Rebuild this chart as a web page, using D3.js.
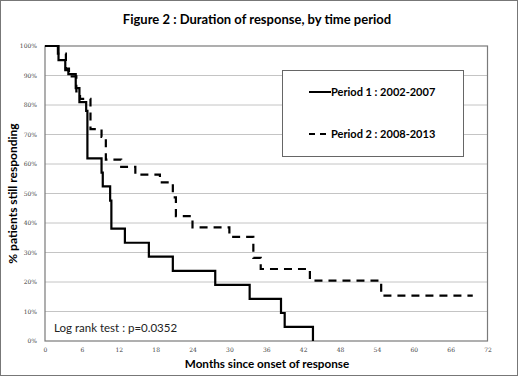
<!DOCTYPE html>
<html>
<head>
<meta charset="utf-8">
<script src="https://cdn.jsdelivr.net/npm/d3@7"></script>
<style>
  body { margin: 0; background: #fff; }
  text { font-family: Lato, "Open Sans", sans-serif; }
</style>
</head>
<body>
<svg id="chart" width="520" height="377"></svg>
<script>
// step points: [month, % still responding]
let period1 = [
  [0, 100], [2.2, 95.2], [3.3, 91.8], [3.8, 90.5], [5.0, 85.7], [5.6, 81.0],
  [6.7, 78.0], [6.9, 61.9], [9.2, 57.1], [9.4, 52.4], [10.6, 47.6], [10.8, 38.1],
  [13.0, 33.3], [16.9, 28.6], [20.8, 23.8], [27.7, 19.0], [33.3, 14.3],
  [38.4, 9.5], [39.0, 4.8], [43.6, 0]
];
let period2 = [
  [0, 100], [2.1, 97.4], [3.4, 92.3], [3.9, 89.7], [5.1, 84.6], [5.7, 82.1],
  [7.4, 71.8], [9.2, 69.2], [9.9, 61.5], [12.4, 59.0], [14.7, 56.4], [18.7, 53.8],
  [20.8, 48.7], [21.3, 42.3], [24.0, 38.5], [30.0, 35.3], [33.9, 28.2],
  [35.1, 24.4], [43.1, 20.5], [54.7, 15.4], [69.6, 15.4]
];
let seriesNames = ["Period 1 : 2002-2007", "Period 2 : 2008-2013"];
let xTicks = [0, 6, 12, 18, 24, 30, 36, 42, 48, 54, 60, 66, 72];
let yTicks = [0, 10, 20, 30, 40, 50, 60, 70, 80, 90, 100];

let svg = d3.select("#chart");
let margin = { top: 46, left: 45, right: 32, bottom: 36 };
let width = 520, height = 377;

// outer frame
svg.append("rect")
  .attr("x", 0.5).attr("y", 0.5)
  .attr("width", 517).attr("height", 375)
  .attr("fill", "#fff")
  .attr("stroke", "#777");

let xScale = d3.scaleLinear().domain([0, 72]).range([margin.left, width - margin.right - 0.5]);
let yScale = d3.scaleLinear().domain([0, 100]).range([height - margin.bottom, margin.top]);

// grid
svg.append("g").selectAll("line").data(yTicks.filter(d => d > 0 && d < 100))
  .enter().append("line")
  .attr("x1", xScale(0)).attr("x2", xScale(72))
  .attr("y1", d => yScale(d)).attr("y2", d => yScale(d))
  .attr("stroke", "#c4c4c4").attr("stroke-width", 1);

// plot border
svg.append("rect")
  .attr("x", xScale(0)).attr("y", yScale(100))
  .attr("width", xScale(72) - xScale(0)).attr("height", yScale(0) - yScale(100))
  .attr("fill", "none").attr("stroke", "#7a7a7a").attr("stroke-width", 1.2);

// axes (labels only)
let axisX = d3.axisBottom(xScale).tickValues(xTicks).tickSize(0).tickPadding(7);
let gX = svg.append("g").attr("transform", `translate(0,${yScale(0)})`).call(axisX);
gX.select(".domain").remove();
gX.selectAll("text").style("font-size", "6px").attr("fill", "#444")
  .style("font-family", "'DejaVu Serif', serif");

let axisY = d3.axisLeft(yScale).tickValues(yTicks).tickSize(0).tickPadding(8)
  .tickFormat(d => d + "%");
let gY = svg.append("g").attr("transform", `translate(${xScale(0)},0)`).call(axisY);
gY.select(".domain").remove();
gY.selectAll("text").style("font-size", "6px").attr("fill", "#444")
  .style("font-family", "'DejaVu Serif', serif");

// curves
let line = d3.line()
  .x(d => xScale(d[0]))
  .y(d => yScale(d[1]))
  .curve(d3.curveStepAfter);

svg.append("path").datum(period1)
  .attr("d", line)
  .attr("fill", "none").attr("stroke", "#000").attr("stroke-width", 2.2);

svg.append("path").datum(period2)
  .attr("d", line)
  .attr("fill", "none").attr("stroke", "#000").attr("stroke-width", 2.2)
  .attr("stroke-dasharray", "8,6");

// legend
let legend = svg.append("g");
legend.append("rect")
  .attr("x", 282.5).attr("y", 70.5).attr("width", 181).attr("height", 86)
  .attr("fill", "#fff").attr("stroke", "#666");
seriesNames.forEach((name, i) => {
  let ly = 92 + i * 42;
  legend.append("line")
    .attr("x1", 309).attr("x2", 331).attr("y1", ly).attr("y2", ly)
    .attr("stroke", "#000").attr("stroke-width", 2)
    .attr("stroke-dasharray", i == 0 ? null : "6,5");
  legend.append("text")
    .attr("x", 331).attr("y", ly + 4)
    .style("font-size", "11px").style("font-weight", "bold")
    .text(name);
});

// log rank note
svg.append("text")
  .attr("x", 54).attr("y", 332)
  .style("font-size", "11.5px").attr("fill", "#222")
  .text("Log rank test : p=0.0352");

// titles
svg.append("text")
  .attr("x", 257).attr("y", 24)
  .attr("text-anchor", "middle")
  .style("font-size", "13px").style("font-weight", "bold")
  .text("Figure 2 : Duration of response, by time period");

svg.append("text")
  .attr("x", 267).attr("y", 368)
  .attr("text-anchor", "middle")
  .style("font-size", "11.7px").style("font-weight", "bold")
  .text("Months since onset of response");

svg.append("text")
  .attr("transform", `translate(17,${(yScale(0) + yScale(100)) / 2}) rotate(-90)`)
  .attr("text-anchor", "middle")
  .style("font-size", "12px").style("font-weight", "bold")
  .text("% patients still responding");
</script>
</body>
</html>
